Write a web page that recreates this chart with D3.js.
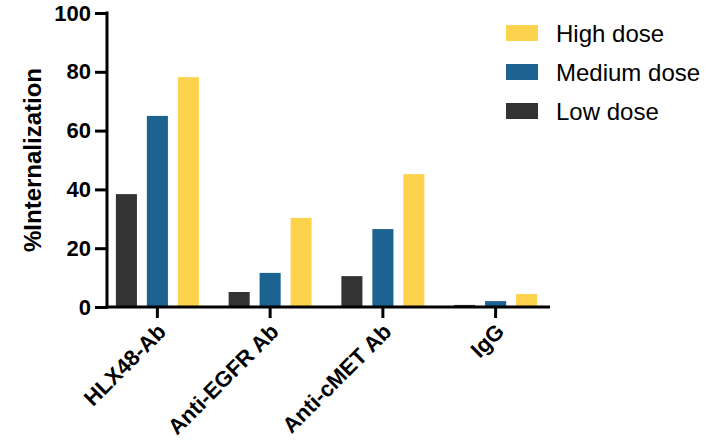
<!DOCTYPE html>
<html>
<head>
<meta charset="utf-8">
<script src="https://cdn.jsdelivr.net/npm/d3@7"></script>
<style>
  body { margin: 0; background: #fff; }
  svg { display: block; font-family: "Liberation Sans", Arial, sans-serif; }
</style>
</head>
<body>
<svg width="723" height="446"></svg>
<script>
const categories = ['HLX48-Ab', 'Anti-EGFR Ab', 'Anti-cMET Ab', 'IgG'];
const series = ['Low dose', 'Medium dose', 'High dose'];
const lowDose = [38.4, 5.1, 10.5, 0.7];
const mediumDose = [65.0, 11.6, 26.5, 2.0];
const highDose = [78.2, 30.3, 45.2, 4.4];
const yTicks = [0, 20, 40, 60, 80, 100];
const colors = ['#333333', '#1c6392', '#fdd34e'];

const values = [lowDose, mediumDose, highDose];
const svg = d3.select('svg');

const y = d3.scaleLinear().domain([0, 100]).range([307, 13]);
const x = d3.scaleBand().domain(categories).range([101, 552]);
const xs = d3.scaleBand().domain(series).range([-41.5, 41.5]).paddingInner(0.32);

// bars
const rows = [];
categories.forEach((c, i) => series.forEach((s, j) => rows.push({c, s, v: values[j][i], j})));
svg.append('g').selectAll('rect')
  .data(rows)
  .enter().append('rect')
  .attr('x', d => x(d.c) + x.bandwidth() / 2 + xs(d.s))
  .attr('width', xs.bandwidth())
  .attr('y', d => y(d.v))
  .attr('height', d => y(0) - y(d.v))
  .attr('fill', d => colors[d.j]);

// y axis
const yAxis = svg.append('g')
  .attr('transform', 'translate(107,0)')
  .call(d3.axisLeft(y).tickValues(yTicks).tickSize(12).tickPadding(4).tickSizeOuter(0));
yAxis.select('.domain').attr('stroke-width', 3).attr('d', 'M0,11.5V308.5');
yAxis.selectAll('.tick line').attr('stroke-width', 3);
yAxis.selectAll('.tick text')
  .attr('font-size', 22).attr('font-weight', 'bold').attr('fill', '#000')
  .attr('font-family', '"Liberation Sans", Arial, sans-serif');

// x axis
const xAxis = svg.append('g')
  .attr('transform', 'translate(0,307)')
  .call(d3.axisBottom(x).tickSize(11).tickSizeOuter(0));
xAxis.select('.domain').attr('stroke-width', 3).attr('d', 'M105.5,0H550');
xAxis.selectAll('.tick line').attr('stroke-width', 3);
xAxis.selectAll('.tick text')
  .attr('font-size', 22).attr('font-weight', 'bold').attr('fill', '#000')
  .attr('font-family', '"Liberation Sans", Arial, sans-serif')
  .attr('text-anchor', 'end')
  .attr('dy', null)
  .attr('y', 0)
  .attr('transform', 'translate(10,26) rotate(-45)');

// y title
svg.append('text')
  .attr('transform', 'translate(41,160) rotate(-90)')
  .attr('text-anchor', 'middle')
  .attr('font-size', 24)
  .attr('font-weight', 'bold')
  .text('%Internalization');

// legend, high dose on top
const legend = svg.append('g').selectAll('g')
  .data([2, 1, 0])
  .enter().append('g')
  .attr('transform', (d, i) => `translate(506,${33 + i * 39})`);
legend.append('rect')
  .attr('x', 0).attr('y', -8).attr('width', 32).attr('height', 16)
  .attr('fill', d => colors[d]);
legend.append('text')
  .attr('x', 50).attr('y', 0).attr('dy', '0.36em')
  .attr('font-size', 24)
  .text(d => series[d]);
</script>
</body>
</html>
